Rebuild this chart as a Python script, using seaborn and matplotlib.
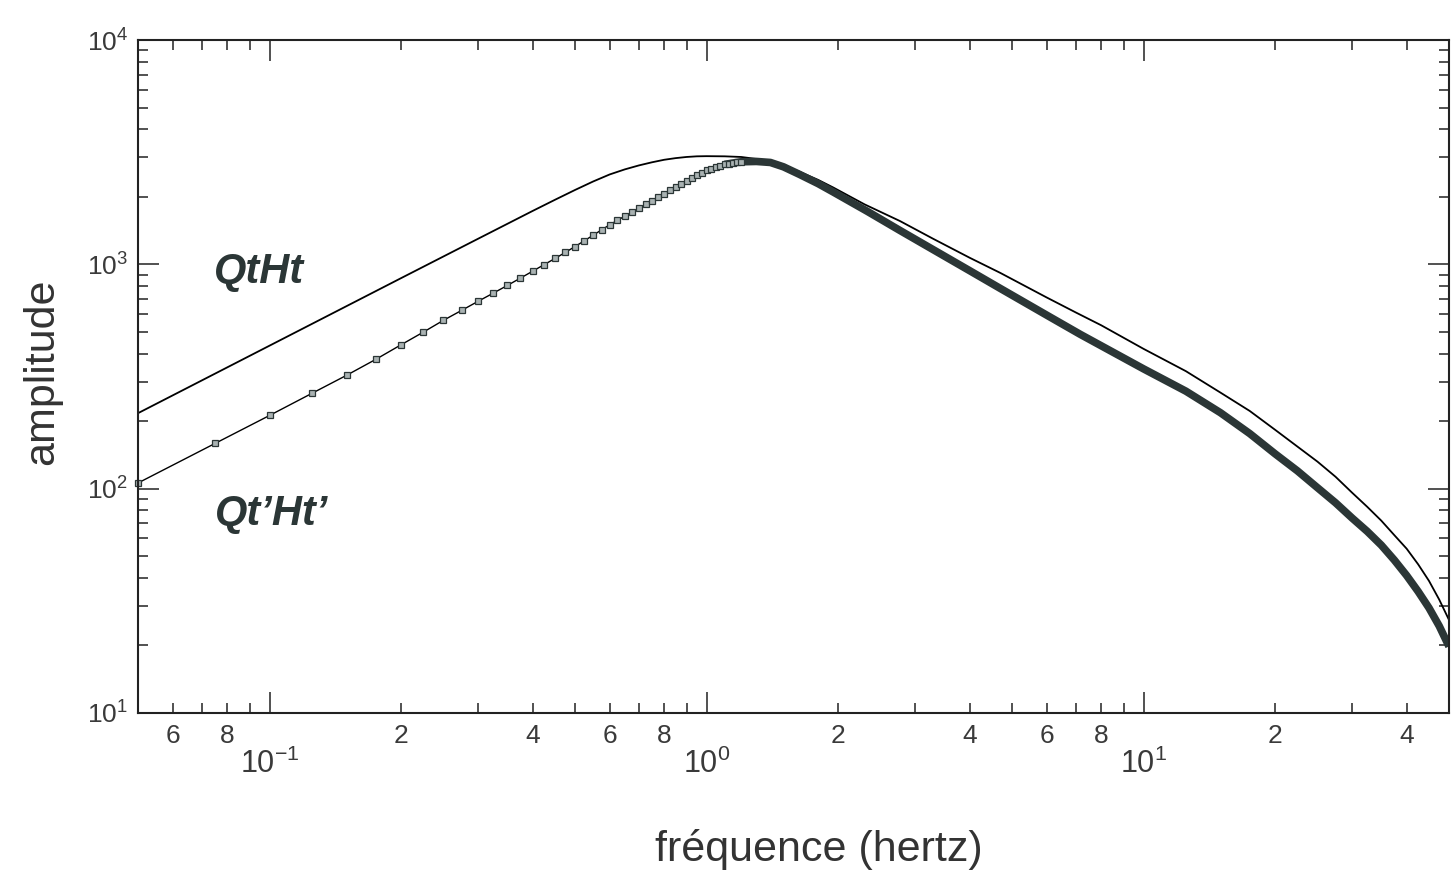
"""
Amplitude spectra QtHt and Qt'Ht' (log-log), redrawn with seaborn
"""

import math
import matplotlib
matplotlib.use('Agg')
import matplotlib.pyplot as plt
from matplotlib.ticker import LogLocator, FuncFormatter, NullFormatter
import seaborn as sns

# QtHt - thin line
qtht_freq = [0.05, 0.1, 0.15, 0.2, 0.3, 0.4, 0.45, 0.5, 0.55, 0.6, 0.65, 0.7,
             0.75, 0.8, 0.85, 0.9, 0.95, 1.0, 1.1, 1.2, 1.3, 1.4, 1.5, 1.63,
             1.8, 1.95, 2.3, 2.77, 3.3, 4.0, 4.7, 6.0, 7.0, 8.0, 10, 12.5,
             15, 17.5, 20, 22.5, 25, 27.5, 30, 32.5, 35, 37.5, 40, 42.5,
             45, 47.5, 50]
qtht_amp = [217, 434, 651, 868, 1300, 1730, 1940, 2145, 2340, 2515, 2650, 2760,
            2850, 2925, 2975, 3010, 3030, 3035, 3030, 3010, 2950, 2860, 2760, 2590,
            2380, 2200, 1850, 1560, 1300, 1070, 916, 712, 610, 535, 420, 334,
            268, 222, 183, 154, 132, 113, 96, 83, 72, 62, 54, 46,
            38.8, 32, 26]

# Qt'Ht' - square markers every 0.025 Hz, distinct up to ~1.2 Hz
qtht2_marker_freq = [0.05, 0.075, 0.1, 0.125, 0.15, 0.175, 0.2, 0.225, 0.25, 0.275,
                     0.3, 0.325, 0.35, 0.375, 0.4, 0.425, 0.45, 0.475, 0.5, 0.525,
                     0.55, 0.575, 0.6, 0.625, 0.65, 0.675, 0.7, 0.725, 0.75, 0.775,
                     0.8, 0.825, 0.85, 0.875, 0.9, 0.925, 0.95, 0.975, 1.0, 1.025,
                     1.05, 1.075, 1.1, 1.125, 1.15, 1.175, 1.2]
qtht2_marker_amp = [106, 159, 212, 266, 320, 377, 438, 499, 563, 623,
                    684, 744, 805, 868, 932, 997, 1062, 1130, 1200, 1273,
                    1348, 1424, 1500, 1570, 1640, 1710, 1780, 1850, 1920, 1990,
                    2060, 2135, 2210, 2285, 2360, 2430, 2500, 2560, 2620, 2670,
                    2715, 2755, 2790, 2815, 2840, 2855, 2865]

# above ~1.2 Hz the markers overlap into one thick band
qtht2_band_freq = [1.1, 1.2, 1.3, 1.4, 1.5, 1.63, 1.8, 1.95, 2.33, 2.77, 3.3, 4.0,
                   4.7, 6.12, 7.17, 10, 12.5, 15, 17.5, 20, 22.5, 25, 27.5, 30,
                   32.5, 35, 37.5, 40, 42.5, 45, 47.5, 50]
qtht2_band_amp = [2790, 2865, 2875, 2845, 2720, 2520, 2290, 2100, 1725, 1416, 1163, 937,
                  781, 581, 487, 342, 272, 218, 176, 143, 120, 101, 86.5, 74,
                  64.5, 56, 48, 41, 34.8, 29.4, 24.4, 19.8]

# axis labelling
x_minor_labelled = [2, 4, 6, 8]
x_limits = (0.05, 50)
y_limits = (10, 1e4)

INK = '#2b3636'
TICK_COLOR = '#3a3a3a'

sns.set_theme(style='ticks')
plt.rcParams['font.family'] = ['Liberation Sans Narrow', 'Liberation Sans', 'DejaVu Sans']
plt.rcParams['mathtext.fontset'] = 'custom'
plt.rcParams['mathtext.rm'] = 'Liberation Sans Narrow'
plt.rcParams['axes.edgecolor'] = '#222222'
plt.rcParams['axes.linewidth'] = 1.5

fig = plt.figure(figsize=(14.52, 8.75), dpi=100)
ax = fig.add_axes([138 / 1452, 162 / 875, 1311 / 1452, 673 / 875])
ax.set_xscale('log')
ax.set_yscale('log')

sns.lineplot(x=qtht_freq, y=qtht_amp, ax=ax, color='black', lw=1.3)
sns.lineplot(x=qtht2_band_freq, y=qtht2_band_amp, ax=ax, color=INK, lw=5.5,
             solid_capstyle='butt', solid_joinstyle='round')
sns.lineplot(x=qtht2_marker_freq, y=qtht2_marker_amp, ax=ax, color='black', lw=1.0,
             marker='s', markersize=4, markerfacecolor='#a9b2b2',
             markeredgecolor=INK, markeredgewidth=0.9, clip_on=False)

ax.set_xlim(*x_limits)
ax.set_ylim(*y_limits)

# ticks: inward on all four sides
ax.xaxis.set_major_locator(LogLocator(base=10, numticks=20))
ax.xaxis.set_minor_locator(LogLocator(base=10, subs=range(2, 10), numticks=50))
ax.yaxis.set_major_locator(LogLocator(base=10, numticks=20))
ax.yaxis.set_minor_locator(LogLocator(base=10, subs=range(2, 10), numticks=50))


def decade_label(v, pos):
    return r'$\mathregular{10^{%d}}$' % round(math.log10(v))


def mantissa_label(v, pos):
    m = int(round(v / 10 ** math.floor(math.log10(v) + 1e-9)))
    return str(m) if m in x_minor_labelled else ''


ax.xaxis.set_major_formatter(FuncFormatter(decade_label))
ax.xaxis.set_minor_formatter(FuncFormatter(mantissa_label))
ax.yaxis.set_major_formatter(FuncFormatter(decade_label))
ax.yaxis.set_minor_formatter(NullFormatter())

ax.tick_params(which='both', direction='in', top=True, right=True,
               color='#222222', labelcolor=TICK_COLOR)
ax.tick_params(which='major', length=15, width=1.1)
ax.tick_params(which='minor', length=7.5, width=1.1)
ax.tick_params(axis='x', which='major', pad=26, labelsize=22)
ax.tick_params(axis='x', which='minor', pad=8, labelsize=19)
ax.tick_params(axis='y', which='major', pad=7, labelsize=19)

ax.set_xlabel('fréquence (hertz)', fontsize=31, color='#333333',
              family=['Liberation Sans', 'DejaVu Sans'])
ax.xaxis.set_label_coords(0.519, -0.172)
ax.set_ylabel('amplitude', fontsize=31, color='#333333',
              family=['Liberation Sans', 'DejaVu Sans'])
ax.yaxis.set_label_coords(-0.058, 0.507)

ax.text(0.0924, 0.639, 'QtHt', transform=ax.transAxes, ha='center', va='baseline',
        fontsize=30, fontweight='bold', fontstyle='italic', color=INK,
        family=['Liberation Sans', 'DejaVu Sans'])
ax.text(0.1019, 0.2793, 'Qt\u2019Ht\u2019', transform=ax.transAxes, ha='center',
        va='baseline', fontsize=30, fontweight='bold', fontstyle='italic', color=INK,
        family=['Liberation Sans', 'DejaVu Sans'])

fig.savefig('out.png', dpi=100)
